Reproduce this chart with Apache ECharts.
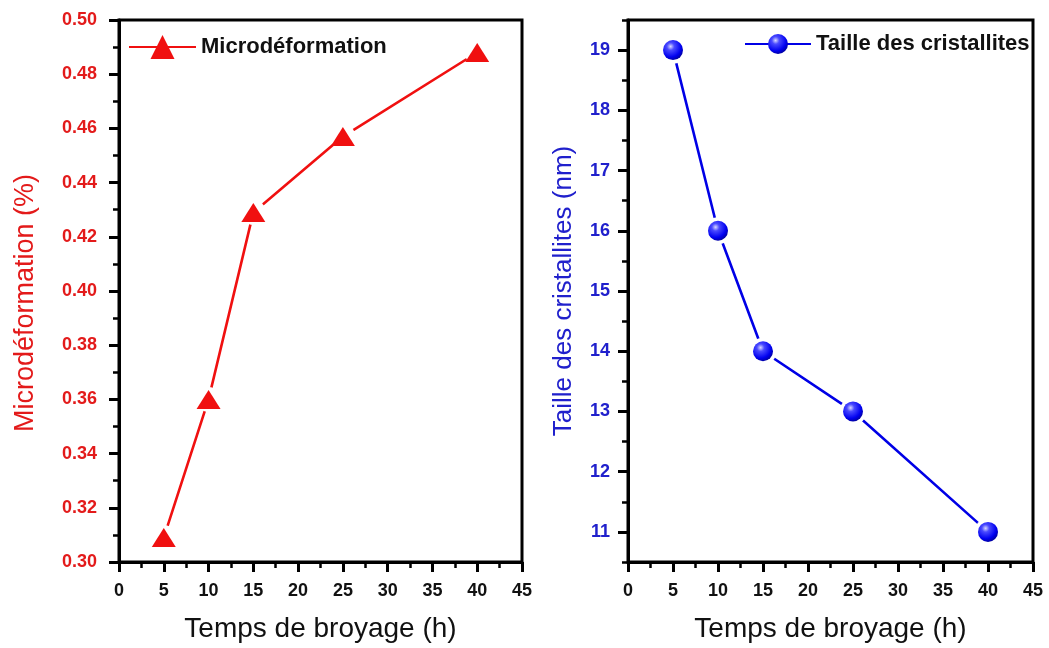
<!DOCTYPE html>
<html>
<head>
<meta charset="utf-8">
<title>Microdéformation et taille des cristallites</title>
<script src="https://cdn.jsdelivr.net/npm/echarts@6/dist/echarts.min.js"></script>
<style>
  html, body { margin: 0; padding: 0; background: #fff; }
  #chart { width: 1049px; height: 648px; }
</style>
</head>
<body>
<div id="chart"></div>
<script>
// Milling time (h) shared by both panels
const hours = [5, 10, 15, 25, 40];
// Left panel: microstrain (%)
const microdeformation = [0.309, 0.360, 0.429, 0.457, 0.488];
// Right panel: crystallite size (nm)
const crystalliteSize = [19, 16, 14, 13, 11];
// Tick values of the crystallite-size axis
const sizeMajorTicks = [11, 12, 13, 14, 15, 16, 17, 18, 19];
const sizeMinorTicks = [10.5, 11.5, 12.5, 13.5, 14.5, 15.5, 16.5, 17.5, 18.5, 19.5];

const FONT = '"Liberation Sans", Arial, sans-serif';
const RED = '#f01010';
const RED_TEXT = '#e31a1a';
const BLUE = '#0000e6';
const BLUE_TEXT = '#2020cc';

const pairs = (ys) => hours.map((h, i) => [h, ys[i]]);

const sphere = {
  type: 'radial', x: 0.38, y: 0.32, r: 0.75,
  colorStops: [
    { offset: 0, color: '#d8d8ff' },
    { offset: 0.25, color: '#4a4aff' },
    { offset: 0.7, color: '#0000f0' },
    { offset: 1, color: '#00008a' }
  ]
};

function xAxisFor(gridIndex) {
  return {
    type: 'value', gridIndex, min: 0, max: 45, interval: 5,
    name: 'Temps de broyage (h)', nameLocation: 'middle', nameGap: 53,
    nameTextStyle: { fontFamily: FONT, fontSize: 28, color: '#111' },
    axisLine: { show: true, onZero: false, lineStyle: { color: '#000', width: 3 } },
    axisTick: { show: true, length: 10, lineStyle: { color: '#000', width: 3 } },
    minorTick: { show: true, splitNumber: 2, length: 6, lineStyle: { color: '#000', width: 2.5 } },
    axisLabel: { margin: 20, fontFamily: FONT, fontSize: 18, fontWeight: 'bold', color: '#111' },
    splitLine: { show: false }
  };
}

const option = {
  backgroundColor: '#fff',
  animation: false,
  grid: [
    { left: 119, top: 20, width: 403, height: 544, show: true, borderColor: '#000', borderWidth: 3, containLabel: false },
    { left: 628, top: 20, width: 405, height: 544, show: true, borderColor: '#000', borderWidth: 3, containLabel: false }
  ],
  legend: [
    {
      data: ['Microdéformation'], left: 128, top: 35, padding: 0,
      itemWidth: 67, itemHeight: 30, itemGap: 0,
      textStyle: { fontFamily: FONT, fontSize: 22, fontWeight: 'bold', color: '#111' }
    },
    {
      data: ['Taille des cristallites'], left: 744, top: 33, padding: 0,
      itemWidth: 66, itemHeight: 25, itemGap: 0,
      textStyle: { fontFamily: FONT, fontSize: 22, fontWeight: 'bold', color: '#111' }
    }
  ],
  xAxis: [xAxisFor(0), xAxisFor(1)],
  yAxis: [
    {
      type: 'value', gridIndex: 0, min: 0.30, max: 0.50, interval: 0.02,
      name: 'Microdéformation (%)', nameLocation: 'middle', nameGap: 80,
      nameTextStyle: { fontFamily: FONT, fontSize: 27, color: RED_TEXT, padding: [0, 24, 0, 0] },
      axisLine: { show: true, onZero: false, lineStyle: { color: '#000', width: 3 } },
      axisTick: { show: true, length: 10, lineStyle: { color: '#000', width: 3 } },
      minorTick: { show: true, splitNumber: 2, length: 6, lineStyle: { color: '#000', width: 2.5 } },
      axisLabel: {
        margin: 22, fontFamily: FONT, fontSize: 18, fontWeight: 'bold', color: RED_TEXT,
        formatter: (v) => v.toFixed(2)
      },
      splitLine: { show: false }
    },
    {
      type: 'value', gridIndex: 1, min: 10.5, max: 19.5,
      name: 'Taille des cristallites (nm)', nameLocation: 'middle', nameGap: 51,
      nameTextStyle: { fontFamily: FONT, fontSize: 26, color: BLUE_TEXT },
      axisLine: { show: true, onZero: false, lineStyle: { color: '#000', width: 3 } },
      axisTick: { show: true, length: 10, customValues: sizeMajorTicks, lineStyle: { color: '#000', width: 3 } },
      axisLabel: {
        margin: 18, customValues: sizeMajorTicks,
        fontFamily: FONT, fontSize: 18, fontWeight: 'bold', color: BLUE_TEXT
      },
      splitLine: { show: false }
    },
    {
      // half-unit ticks of the crystallite-size axis
      type: 'value', gridIndex: 1, min: 10.5, max: 19.5, position: 'left',
      axisLine: { show: false },
      axisTick: { show: true, length: 6, customValues: sizeMinorTicks, lineStyle: { color: '#000', width: 2.5 } },
      axisLabel: { show: false },
      splitLine: { show: false }
    }
  ],
  series: [
    // left panel: connecting line, white gap around each point, then the markers
    {
      name: 'Microdéformation', type: 'line', xAxisIndex: 0, yAxisIndex: 0, z: 1,
      data: pairs(microdeformation), showSymbol: false,
      symbol: 'triangle', symbolSize: [23, 19],
      lineStyle: { color: RED, width: 2.6 }, itemStyle: { color: RED }
    },
    {
      name: 'gap-micro', type: 'scatter', xAxisIndex: 0, yAxisIndex: 0, silent: true, z: 2,
      data: pairs(microdeformation), symbol: 'circle', symbolSize: 25,
      itemStyle: { color: '#fff', opacity: 1 }
    },
    {
      name: 'pts-micro', type: 'scatter', xAxisIndex: 0, yAxisIndex: 0, silent: true, z: 3,
      data: pairs(microdeformation), symbol: 'triangle', symbolSize: [24, 19],
      itemStyle: { color: RED, opacity: 1 }
    },
    // right panel
    {
      name: 'Taille des cristallites', type: 'line', xAxisIndex: 1, yAxisIndex: 1, z: 1,
      data: pairs(crystalliteSize), showSymbol: false,
      symbol: 'circle', symbolSize: 20,
      lineStyle: { color: BLUE, width: 2.6 }, itemStyle: { color: sphere }
    },
    {
      name: 'gap-size', type: 'scatter', xAxisIndex: 1, yAxisIndex: 1, silent: true, z: 2,
      data: pairs(crystalliteSize), symbol: 'circle', symbolSize: 27,
      itemStyle: { color: '#fff', opacity: 1 }
    },
    {
      name: 'pts-size', type: 'scatter', xAxisIndex: 1, yAxisIndex: 1, silent: true, z: 3,
      data: pairs(crystalliteSize), symbol: 'circle', symbolSize: 20,
      itemStyle: { color: sphere, opacity: 1 }
    }
  ]
};

const chart = echarts.init(document.getElementById('chart'), null, { renderer: 'canvas' });
chart.setOption(option);
</script>
</body>
</html>
